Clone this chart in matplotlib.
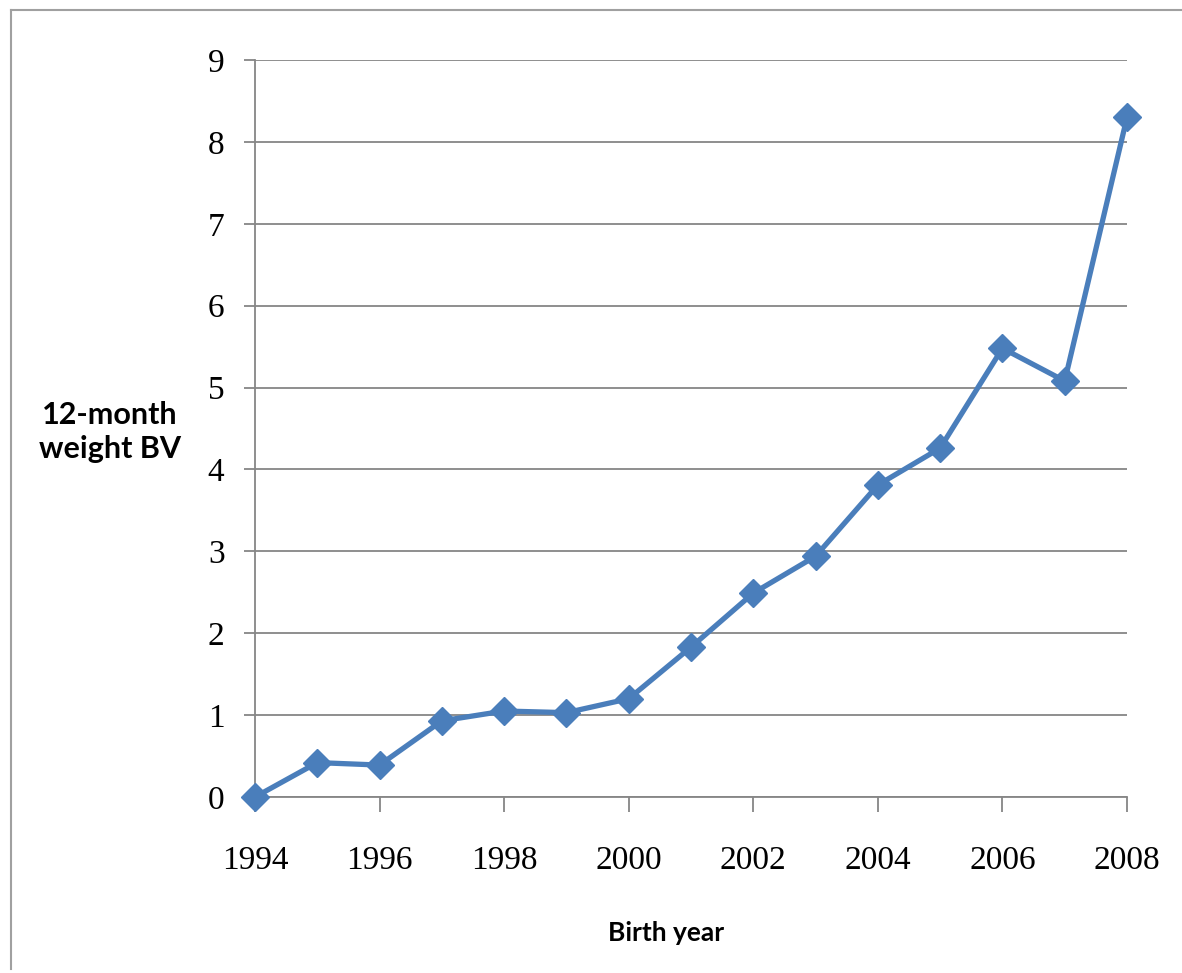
import matplotlib.pyplot as plt
from matplotlib.lines import Line2D

# Данные
years = [1994, 1995, 1996, 1997, 1998, 1999, 2000, 2001,
         2002, 2003, 2004, 2005, 2006, 2007, 2008]
bv = [0.0, 0.42, 0.39, 0.93, 1.05, 1.03, 1.20, 1.83,
      2.49, 2.94, 3.81, 4.26, 5.48, 5.08, 8.30]
x_ticks = [1994, 1996, 1998, 2000, 2002, 2004, 2006, 2008]
y_ticks = list(range(0, 10))

grey = '#868686'
blue = '#4a7ebb'

fig = plt.figure(figsize=(11.82, 9.73), dpi=100)
ax = fig.add_axes([255 / 1182, 1 - 797 / 973, 872 / 1182, 737 / 973])

ax.plot(years, bv, '-', color=blue, lw=3.8, marker='D', ms=14,
        markerfacecolor=blue, markeredgecolor=blue, clip_on=False, zorder=3)

ax.set_xlim(1994, 2008)
ax.set_ylim(0, 9)
ax.set_xticks(x_ticks)
ax.set_yticks(y_ticks)
ax.grid(axis='y', color=grey, lw=1.3)
ax.set_axisbelow(True)

for side in ['top', 'right']:
    ax.spines[side].set_visible(False)
for side in ['left', 'bottom']:
    ax.spines[side].set_color(grey)
    ax.spines[side].set_linewidth(1.3)

ax.tick_params(axis='x', direction='out', length=11, width=1.3, color=grey, pad=24)
ax.tick_params(axis='y', direction='out', length=8, width=1.3, color=grey, pad=14)
for lbl in ax.get_xticklabels() + ax.get_yticklabels():
    lbl.set_fontfamily('Liberation Serif')
    lbl.set_fontsize(24)

fig.text(110 / 1182, 1 - 432 / 973, '12-month\nweight BV', ha='center', va='center',
         fontsize=22, fontweight='bold', family='Lato', linespacing=1.3)
fig.text(666 / 1182, 1 - 933 / 973, 'Birth year', ha='center', va='center',
         fontsize=19, fontweight='bold', family='Lato')

# Рамка вокруг диаграммы
fig.add_artist(Line2D([11 / 1182, 11 / 1182], [1 - 10 / 973, 1 - 969 / 973],
                      transform=fig.transFigure, color='#a0a0a0', lw=1.5))
fig.add_artist(Line2D([11 / 1182, 1.0], [1 - 10 / 973, 1 - 10 / 973],
                      transform=fig.transFigure, color='#a0a0a0', lw=1.5))

fig.savefig('out.png', dpi=100)
